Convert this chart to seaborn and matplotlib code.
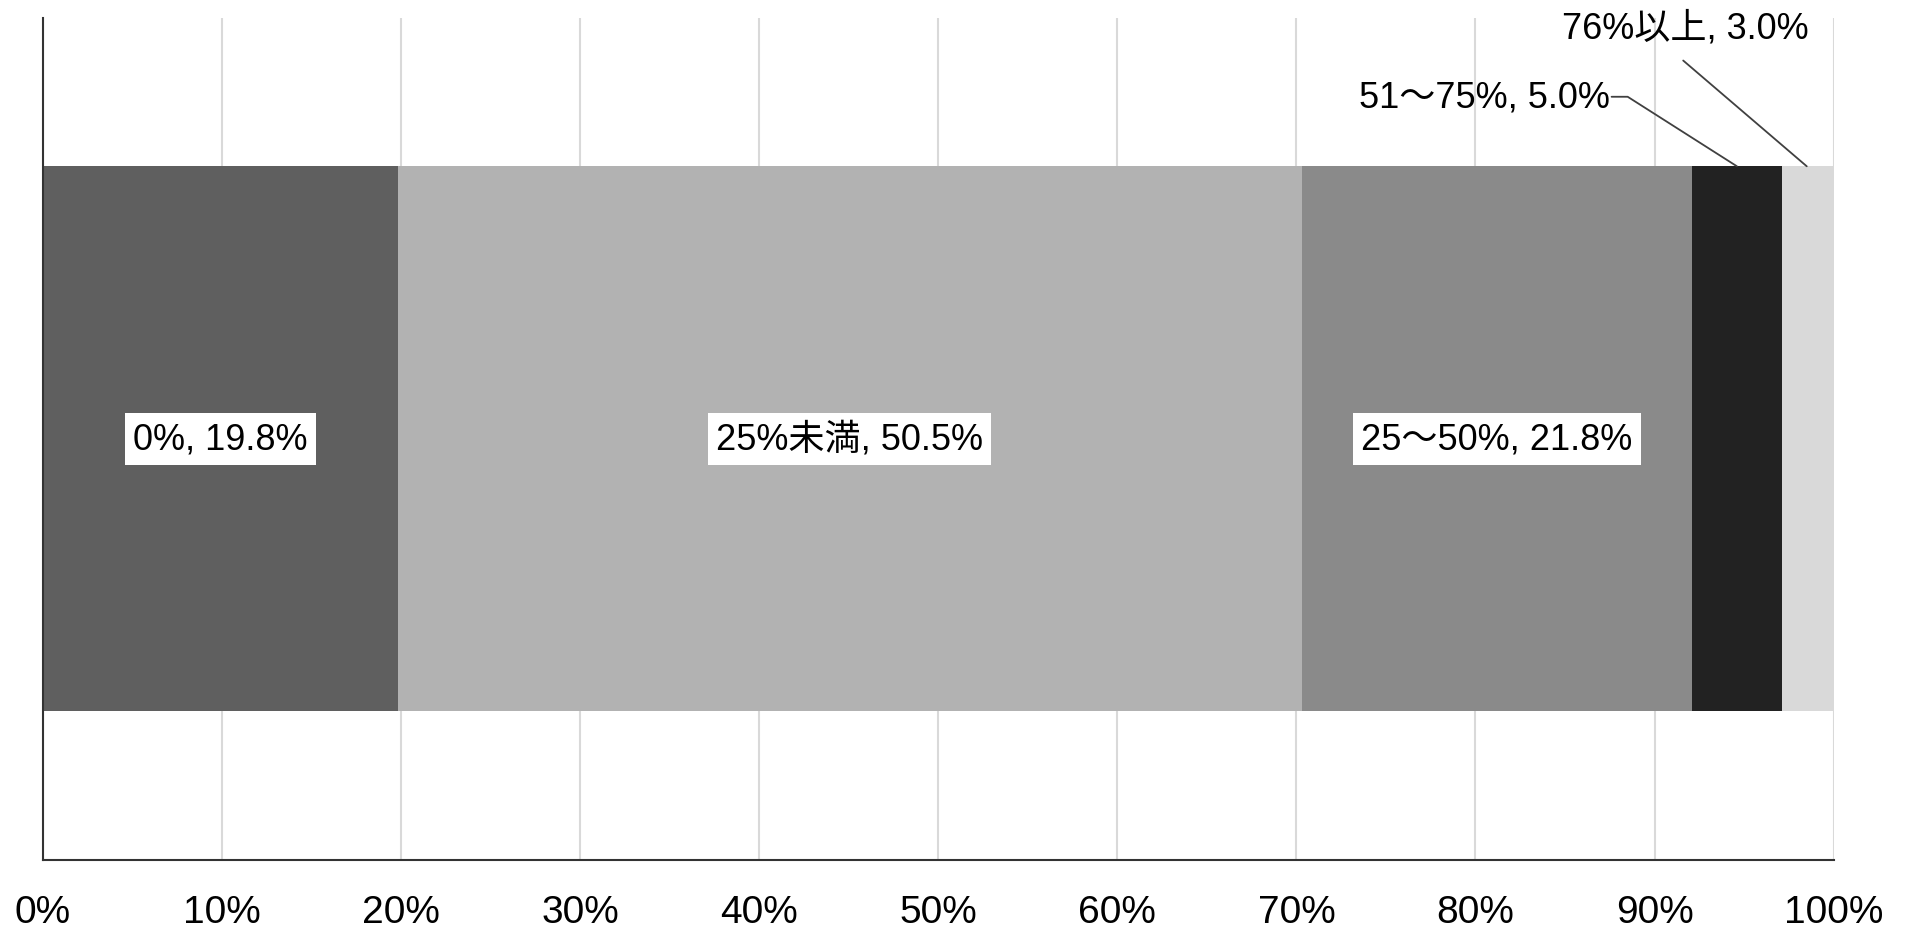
import numpy as np
import matplotlib
matplotlib.use("Agg")
import matplotlib.pyplot as plt
import seaborn as sns

# data
categories = ["0%", "25%未満", "25～50%", "51～75%", "76%以上"]
shares = [19.8, 50.5, 21.8, 5.0, 3.0]
colors = ["#5f5f5f", "#b2b2b2", "#8a8a8a", "#222222", "#d9d9d9"]
xticks = [0, 10, 20, 30, 40, 50, 60, 70, 80, 90, 100]

sns.set_theme(style="white")
plt.rcParams["font.family"] = ["Liberation Sans", "Noto Sans CJK JP", "DejaVu Sans"]

fig, ax = plt.subplots(figsize=(19.12, 9.28), dpi=100)
fig.subplots_adjust(left=0.0225, right=0.959, top=0.98, bottom=0.072)

cum = np.cumsum(shares)
bar_h = 0.647
# draw cumulative bars from the longest down so each segment shows
for i in reversed(range(len(shares))):
    sns.barplot(x=[cum[i]], y=["all"], color=colors[i], orient="h",
                width=bar_h, saturation=1, ax=ax, linewidth=0)

ax.set_xlim(0, 100)
ax.set_ylim(0.5, -0.5)
ax.set_xticks(xticks)
ax.set_xticklabels([f"{t}%" for t in xticks], fontsize=28, color="black")
ax.tick_params(axis="x", length=0, pad=24)
ax.set_yticks([])
ax.set_xlabel("")
ax.set_ylabel("")
ax.xaxis.grid(True, color="#d9d9d9", linewidth=1.5)
ax.set_axisbelow(True)
for s in ["top", "right"]:
    ax.spines[s].set_visible(False)
for s in ["left", "bottom"]:
    ax.spines[s].set_color("#333333")
    ax.spines[s].set_linewidth(1.5)

starts = cum - np.array(shares)
mids = starts + np.array(shares) / 2
box = dict(facecolor="white", edgecolor="none", pad=6)
for i in range(3):
    ax.text(mids[i], 0, f"{categories[i]}, {shares[i]:.1f}%", ha="center", va="center",
            fontsize=26, color="black", bbox=box)

bar_top = -bar_h / 2
# small segments: labels above with leader lines
ax.text(87.5, -0.406, f"{categories[3]}, {shares[3]:.1f}%", ha="right", va="center",
        fontsize=26, color="black")
ax.plot([87.6, 88.5, mids[3]], [-0.406, -0.406, bar_top], color="#404040", lw=1.3,
        clip_on=False)
ax.text(91.7, -0.488, f"{categories[4]}, {shares[4]:.1f}%", ha="center", va="center",
        fontsize=26, color="black", clip_on=False)
ax.plot([91.6, mids[4] - 0.1], [-0.449, bar_top], color="#404040", lw=1.3, clip_on=False)

fig.savefig("out.png", dpi=100)
